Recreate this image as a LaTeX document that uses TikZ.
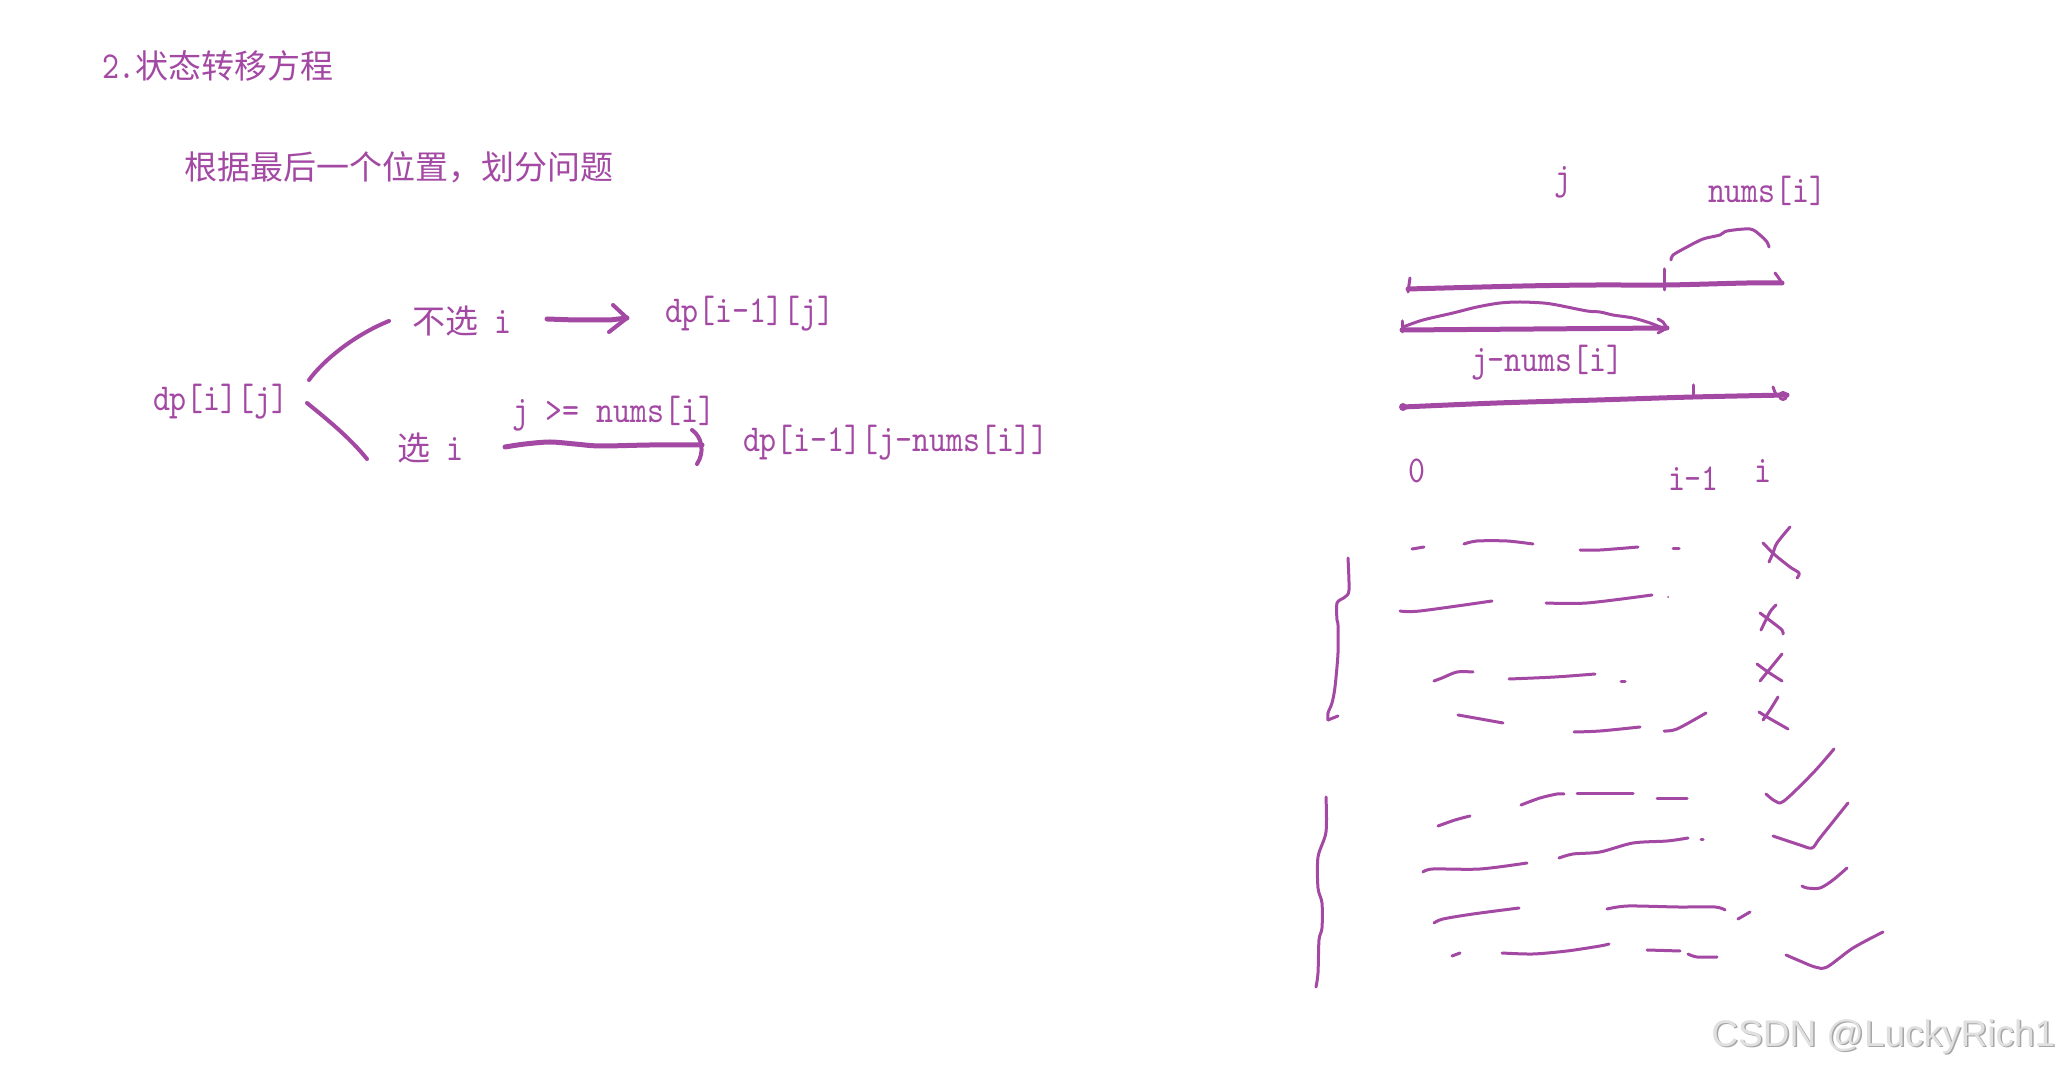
\documentclass[tikz,border=0pt]{standalone}
\usepackage{fontspec}
\newfontfamily\mono{lmmono10-regular.otf}[FakeStretch=0.85]
\newfontfamily\cjk{Noto Sans CJK SC}
\newfontfamily\wmfont{Liberation Sans}
\definecolor{pp}{RGB}{163,73,164}
\begin{document}
\begin{tikzpicture}[x=0.5pt,y=-0.5pt,
  txt/.style={anchor=base west, inner sep=0pt, outer sep=0pt, text=pp, font=\fontsize{19}{22}\selectfont\mono},
  cj/.style={font=\fontsize{16.5}{20}\selectfont\cjk},
  pen/.style={draw=pp, line width=1.5pt, line cap=round, line join=round},
  midpen/.style={pen, line width=2pt},
  thickpen/.style={pen, line width=2.5pt},
  sm/.style={pen, smooth, tension=0.5}]
\useasboundingbox[fill=white] (0,0) rectangle (2063,1068);

% ---------- texts ----------
\node[txt] (title) at (102,79) {2.{\fontsize{16.5}{20}\selectfont\cjk 状态转移方程}};
\node[txt, cj] (sub) at (184,180) {根据最后一个位置，划分问题};
\node[txt] (root) at (153,411) {dp[i][j]};
\node[txt] (nosel) at (412,334) {{\fontsize{16.5}{20}\selectfont\cjk 不选} i};
\node[txt] (sel) at (397,461) {{\fontsize{16.5}{20}\selectfont\cjk 选} i};
\node[txt] (r1) at (665,323) {dp[i-1][j]};
\node[txt] (cond) at (512,423) {j >= nums[i]};
\node[txt] (r2) at (743,452) {dp[i-1][j-nums[i]]};

\node[txt, anchor=base] (jlab) at (1563,190) {j};
\node[txt] (numslab) at (1708,203) {nums[i]};
\node[txt] (jnlab) at (1471,372) {j-nums[i]};
\node[txt, anchor=base] (zero) at (1417,483) {0};
\node[txt] (im1) at (1668,491) {i-1};
\node[txt, anchor=base] (ilab) at (1763,483) {i};

% ---------- left tree ----------
\coordinate (b1s) at (309,380);
\coordinate (b1e) at (389,321);
\coordinate (b2s) at (307,403);
\coordinate (b2e) at (367,459);
\coordinate (a1s) at (547,319);
\coordinate (a1e) at (627,318);
\coordinate (a2s) at (505,447);
\coordinate (a2e) at (702,445);
\draw[midpen] (b1s) .. controls (322,362) and (352,336) .. (b1e);
\draw[midpen] (b2s) .. controls (328,420) and (350,438) .. (b2e);
\draw[thickpen] (a1s) -- (575,320) -- (610,320) -- (a1e);
\draw[midpen] (613,305) -- (a1e) -- (609,332);
\draw[thickpen] plot[smooth, tension=0.5] coordinates {(a2s) (525,444) (550,442) (575,444) (600,446) (650,445) (a2e)};
\draw[midpen] (692,430) .. controls (702,437) and (705,452) .. (697,464);

% ---------- right: segments ----------
\draw[thickpen] plot[smooth, tension=0.5] coordinates {(1408,289) (1523,286) (1597,285) (1667,285) (1747,283) (1782,283)};
\draw[pen] (1410,278) -- (1408,292);
\draw[pen] (1664,269) -- (1664,290);
\draw[pen] (1775,273) -- (1778,277) -- (1782,283);
\draw[sm] plot coordinates {(1671,260) (1673,255) (1687,247) (1703,239) (1720,235) (1727,231) (1750,229) (1760,235) (1767,242) (1769,247)};

\draw[thickpen] (1402,330) -- (1667,328);
\draw[pen] (1402,321) -- (1402,332);
\draw[pen] (1658,319) -- (1663,322) -- (1667,328) -- (1658,333);
\draw[sm] plot coordinates {(1403,327) (1423,320) (1453,313) (1477,307) (1500,303) (1520,302) (1543,303) (1557,305) (1587,311) (1600,312) (1613,315) (1633,318) (1650,323) (1660,327)};

\draw[thickpen] plot[smooth, tension=0.5] coordinates {(1403,407) (1497,403) (1597,400) (1693,397) (1787,395)};
\fill[pp] (1403,407) circle (4);
\draw[pen] (1783,396) circle (3.5);
\draw[pen] (1693,385) -- (1693,397);
\draw[pen] (1773,387) -- (1776,395);

% ---------- right: braces ----------
\draw[sm] plot coordinates {(1348,558) (1349,590) (1345,597) (1337,603) (1337,620) (1338,625) (1338,653) (1335,687) (1332,703) (1328,713) (1328,720)};
\draw[pen] (1328,720) -- (1338,716);
\draw[sm] plot coordinates {(1326,797) (1326,832) (1318,857) (1318,888) (1322,903) (1322,928) (1319,940) (1318,973) (1316,987)};

% ---------- rows, group 1 ----------
\draw[pen] (1412,549) -- (1424,547);
\draw[sm] plot coordinates {(1464,544) (1477,541) (1507,541) (1533,544)};
\draw[sm] plot coordinates {(1580,550) (1600,550) (1638,547)};
\draw[pen] (1673,549) -- (1679,549);
\draw[sm] plot coordinates {(1790,527) (1777,543) (1773,553) (1769,562)};
\draw[sm] plot coordinates {(1763,543) (1775,555) (1790,567) (1799,573) (1797,578)};

\draw[sm] plot coordinates {(1400,611) (1420,611) (1492,601)};
\draw[sm] plot coordinates {(1546,603) (1587,603) (1652,595)};
\fill[pp] (1668,597) circle (1);
\draw[sm] plot coordinates {(1776,605) (1770,612) (1761,630)};
\draw[sm] plot coordinates {(1760,613) (1772,622) (1782,630) (1783,634)};

\draw[sm] plot coordinates {(1434,681) (1442,678) (1457,672) (1473,672)};
\draw[sm] plot coordinates {(1509,679) (1555,677) (1595,674)};
\draw[pen] (1621,682) -- (1625,682);
\draw[pen] (1782,654) -- (1760,681);
\draw[sm] plot coordinates {(1757,664) (1768,672) (1782,681)};

\draw[sm] plot coordinates {(1458,715) (1475,718) (1503,723)};
\draw[sm] plot coordinates {(1574,732) (1600,731) (1640,727)};
\draw[sm] plot coordinates {(1664,731) (1677,729) (1706,713)};
\draw[sm] plot coordinates {(1778,697) (1770,710) (1763,720)};
\draw[sm] plot coordinates {(1759,712) (1767,717) (1788,729)};

% ---------- rows, group 2 ----------
\draw[sm] plot coordinates {(1521,805) (1540,798) (1557,794) (1564,794)};
\draw[pen] (1577,794) -- (1633,794);
\draw[pen] (1657,799) -- (1687,799);
\draw[sm] plot coordinates {(1766,794) (1775,801) (1784,801) (1813,773) (1834,749)};

\draw[sm] plot coordinates {(1438,826) (1455,820) (1470,816)};
\draw[sm] plot coordinates {(1773,836) (1800,845) (1812,848) (1820,838) (1848,803)};

\draw[sm] plot coordinates {(1423,872) (1433,869) (1480,869) (1527,863)};
\draw[sm] plot coordinates {(1559,858) (1573,854) (1600,852) (1633,843) (1667,841) (1688,838)};
\draw[pen] (1701,840) -- (1703,840);
\draw[sm] plot coordinates {(1802,886) (1807,888) (1820,888) (1833,880) (1847,868)};

\draw[sm] plot coordinates {(1434,923) (1443,919) (1473,914) (1519,908)};
\draw[sm] plot coordinates {(1607,909) (1628,906) (1678,907) (1715,907) (1725,910)};
\draw[pen] (1738,919) -- (1750,912);

\draw[pen] (1452,956) -- (1460,953);
\draw[sm] plot coordinates {(1502,953) (1533,954) (1567,951) (1600,946) (1609,944)};
\draw[pen] (1647,950) -- (1680,951);
\draw[sm] plot coordinates {(1688,954) (1697,957) (1717,957)};
\draw[sm] plot coordinates {(1786,955) (1800,961) (1815,967) (1827,967) (1853,948) (1883,932)};

% ---------- watermark ----------
\node[anchor=base west, inner sep=0pt, text=black!35, font=\fontsize{18.5}{20}\selectfont\wmfont] (wms) at (1712.5,1047.5) {CSDN @LuckyRich1};
\node[anchor=base west, inner sep=0pt, text=black!12, font=\fontsize{18.5}{20}\selectfont\wmfont] (wm) at (1711,1046) {CSDN @LuckyRich1};
\end{tikzpicture}
\end{document}
